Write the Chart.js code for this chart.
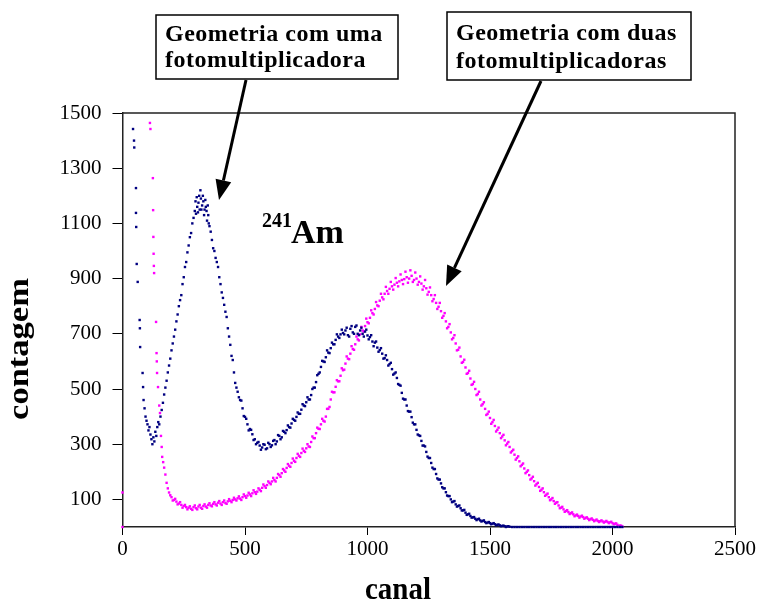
<!DOCTYPE html>
<html><head><meta charset="utf-8">
<script src="https://cdn.jsdelivr.net/npm/chart.js@4.4.0/dist/chart.umd.min.js"></script>
<style>html,body{margin:0;padding:0;background:#fff;}#wrap{position:relative;width:759px;height:603px;}</style>
</head><body><div id="wrap"><canvas id="c" width="759" height="603"></canvas></div>
<script>
const xTicks = [0, 500, 1000, 1500, 2000, 2500];
const yTicks = [100, 300, 500, 700, 900, 1100, 1300, 1500];
const seriesNames = ['Geometria com uma fotomultiplicadora', 'Geometria com duas fotomultiplicadoras'];

// one photomultiplier (navy)
const blueChannels = [43,47,48,55,55,56,58,62,70,71,72,82,84,86,90,94,98,102,106,110,114,118,122,126,130,134,138,142,146,150,
155,160,165,170,175,180,185,190,195,200,205,210,215,220,225,230,235,240,245,250,255,260,265,270,275,280,285,290,295,300,
305,310,315,318,320,325,330,335,340,345,350,355,360,365,370,375,380,385,390,395,400,405,410,415,420,425,430,435,440,445,
450,455,460,465,470,475,480,490,500,510,520,530,540,550,560,570,580,590,600,610,620,630,640,650,660,670,680,690,700,710,
720,730,740,750,760,770,780,790,800,810,820,830,840,850,860,870,880,890,900,910,920,930,940,950,960,970,980,990,1000,1010,
1020,1030,1040,1050,1060,1070,1080,1090,1100,1110,1120,1130,1140,1150,1160,1170,1180,1190,1200,1210,1220,1230,1240,1250,1260,1270,1280,1290,1300,1310,
1320,1330,1340,1350,1360,1370,1380,1390,1400,1410,1420,1430,1440,1450,1460,1470,1480,1490,1500,1510,1520,1530,1540,1550,1560,1570,1580,1590,1600,1610,
1620,1630,1640,1650,1660,1670,1680,1690,1700,1710,1720,1730,1740,1750,1760,1770,1780,1790,1800,1810,1820,1830,1840,1850,1860,1870,1880,1890,1900,1910,
1920,1930,1940,1950,1960,1970,1980,1990,2000,2010,2020,2030,2040];
const blueCounts = [1442,1400,1375,1228,1138,1087,953,888,750,720,652,558,507,460,430,400,385,372,350,362,335,318,300,325,310,345,330,362,380,372,
400,424,450,480,505,530,560,585,610,640,665,690,715,745,770,800,822,840,880,905,942,960,995,1020,1050,1065,1100,1120,1145,1135,
1160,1175,1150,1220,1190,1165,1180,1150,1160,1110,1130,1090,1070,1040,1010,1000,975,960,942,905,880,850,830,805,780,761,720,690,660,620,
605,560,522,505,490,470,460,430,399,372,355,336,318,305,295,288,298,285,300,296,315,310,330,325,345,351,362,375,388,399,
410,425,440,452,462,478,505,525,555,580,600,615,632,648,662,678,690,698,703,712,695,718,705,725,700,712,700,708,694,688,
672,668,650,641,628,612,605,590,572,556,540,515,486,462,440,418,398,372,352,332,312,295,272,250,232,210,192,172,158,140,
126,112,100,92,82,76,68,60,52,46,40,35,30,28,24,22,18,16,14,12,10,8,6,4,3,2,1,0,0,0,
0,0,0,0,0,0,0,0,0,0,0,0,0,0,0,0,0,0,0,0,0,0,0,0,0,0,0,0,0,0,
0,0,0,0,0,0,0,0,0,0,0,0,0];
// second reading of the navy scatter band (spread of the noisy points)
const blueChannelsB = [298,303,308,313,322,328,333,338,343,348,352,
485,495,505,515,525,535,545,555,565,575,585,595,605,615,625,635,645,655,665,675,685,695,705,715,725,735,745,755,765,775,
785,795,805,815,825,835,845,855,865,875,885,895,905,915,925,935,945,955,965,975,985,995,1005,1015,1025,1035,1045,1055,1065,1075,
1085,1095,1105,1115,1125,1135,1145,1155,1165,1175,1185,1195,1205,1215,1225,1235,1245,1255,1265,1275,1285,1295,1305,1315,1325,1335,1345,1355,1365,1375,
1385,1395,1405,1415,1425,1435,1445,1455,1465,1475,1485,1495,1505,1515,1525,1535,1545,1555,1565,1575];
const blueCountsB = [1180,1195,1140,1200,1150,1200,1130,1185,1145,1165,1100,
458,402,392,350,352,315,300,308,280,300,282,305,290,312,300,333,318,348,340,368,360,392,385,415,410,445,438,470,462,500,
505,550,560,602,598,640,630,668,662,698,685,715,698,722,690,728,700,730,695,722,690,715,680,695,655,672,635,648,610,622,
585,595,552,560,518,512,465,462,420,418,378,372,335,330,295,292,255,250,215,210,176,172,144,140,114,112,90,94,74,78,
60,62,44,48,34,36,25,30,20,24,14,18,10,14,6,9,3,5,0,3];

// two photomultipliers (magenta)
const pinkChannels = [0,0,112,114,124,125,126,127,128,129,137,139,140,141,145,150,153,157,160,162,166,170,175,180,185,190,195,200,210,220,
230,240,250,260,270,280,290,300,310,320,330,340,350,360,370,380,390,400,410,420,430,440,450,460,470,480,490,500,510,520,
530,540,550,560,570,580,590,600,610,620,630,640,650,660,670,680,690,700,710,720,730,740,750,760,770,780,790,800,810,820,
830,840,850,860,870,880,890,900,910,920,930,940,950,960,970,980,990,1000,1010,1020,1030,1040,1050,1060,1070,1080,1090,1100,1110,1120,
1130,1140,1150,1160,1170,1180,1190,1200,1210,1220,1230,1240,1250,1260,1270,1280,1290,1300,1310,1320,1330,1340,1350,1360,1370,1380,1390,1400,1410,1420,
1430,1440,1450,1460,1470,1480,1490,1500,1510,1520,1530,1540,1550,1560,1570,1580,1590,1600,1610,1620,1630,1640,1650,1660,1670,1680,1690,1700,1710,1720,
1730,1740,1750,1760,1770,1780,1790,1800,1810,1820,1830,1840,1850,1860,1870,1880,1890,1900,1910,1920,1930,1940,1950,1960,1970,1980,1990,2000,2010,2020,
2030,2040];
const pinkCounts = [0,125,1464,1442,1264,1148,1051,990,946,920,743,630,600,558,507,440,413,330,290,254,235,215,190,160,140,125,115,108,98,92,
85,80,76,72,70,66,72,68,74,70,76,74,80,78,84,82,88,85,90,87,93,95,98,100,104,103,108,112,114,118,
122,126,128,135,142,148,152,160,165,170,178,188,195,205,214,222,232,240,250,258,268,276,285,292,308,322,340,356,372,385,
400,428,462,488,508,528,548,568,592,610,628,645,662,680,698,712,728,742,758,775,790,803,820,832,845,855,863,872,878,885,
890,895,898,905,900,910,895,900,888,882,872,865,852,840,826,812,798,782,765,745,725,705,685,665,642,618,598,578,558,538,
518,500,482,462,445,428,410,395,380,366,352,340,328,314,302,290,275,262,250,238,225,212,200,188,176,166,155,145,135,126,
117,108,100,94,88,78,70,64,58,54,50,46,42,40,38,36,33,30,28,26,24,22,21,20,19,18,17,14,12,8,
5,2];
// second reading of the magenta scatter band
const pinkChannelsB = [205,215,225,235,245,255,265,275,285,295,305,315,325,335,345,355,365,375,385,395,405,415,425,435,445,455,465,475,485,495,
505,515,525,535,545,555,565,575,585,595,605,615,625,635,645,655,665,675,685,695,705,715,725,735,745,755,765,775,785,795,
805,815,825,835,845,855,865,875,885,895,905,915,925,935,945,955,965,975,985,995,1005,1015,1025,1035,1045,1055,1065,1075,1085,1095,
1105,1115,1125,1135,1145,1155,1165,1175,1185,1195,1205,1215,1225,1235,1245,1255,1265,1275,1285,1295,1305,1315,1325,1335,1345,1355,1365,1375,1385,1395,
1405,1415,1425,1435,1445,1455,1465,1475,1485,1495,1505,1515,1525,1535,1545,1555,1565,1575,1585,1595,1605,1615,1625,1635,1645,1655,1665,1675,1685,1695,
1705,1715,1725,1735,1745,1755,1765,1775,1785,1795,1805,1815,1825,1835,1845,1855,1865,1875,1885,1895,1905,1915,1925,1935,1945,1955,1965,1975,1985,1995,
2005,2015,2025,2035];
const pinkCountsB = [96,102,82,90,70,80,64,75,62,78,64,80,66,82,70,86,75,90,78,94,80,96,84,101,90,106,96,111,98,118,
106,124,112,133,120,140,130,154,142,165,155,178,165,192,182,210,200,228,218,248,236,265,254,284,272,300,290,328,322,360,
355,392,382,428,435,490,488,532,528,575,570,618,608,655,642,690,676,725,708,755,738,785,770,815,800,845,825,870,845,888,
860,902,872,915,880,925,885,930,888,922,878,908,860,895,842,868,818,840,790,812,758,775,720,735,680,695,640,650,595,606,
555,566,515,526,478,490,440,452,406,418,374,388,346,360,322,334,296,308,270,280,244,256,220,230,195,205,172,182,150,160,
131,140,113,121,97,105,84,90,68,73,55,61,47,53,39,45,34,41,30,35,25,31,21,27,18,24,16,22,14,19,
10,13,4,5];

function pts(xs, ys){ return xs.map((x,i)=>({x:x, y:ys[i]})); }

const SERIF = "'Liberation Serif','Times New Roman',serif";

function arrow(ctx,x1,y1,x2,y2){
  const ang=Math.atan2(y2-y1,x2-x1), L=20, W=8;
  const bx=x2-L*Math.cos(ang), by=y2-L*Math.sin(ang);
  ctx.lineWidth=3; ctx.strokeStyle='#000'; ctx.fillStyle='#000';
  ctx.beginPath(); ctx.moveTo(x1,y1); ctx.lineTo(bx,by); ctx.stroke();
  ctx.beginPath(); ctx.moveTo(x2,y2);
  ctx.lineTo(bx+W*Math.sin(ang), by-W*Math.cos(ang));
  ctx.lineTo(bx-W*Math.sin(ang), by+W*Math.cos(ang));
  ctx.closePath(); ctx.fill();
}

const deco = {
  id:'deco',
  afterDraw(chart){
    const ctx=chart.ctx, a=chart.chartArea;
    ctx.save();
    ctx.strokeStyle='#222'; ctx.lineWidth=1.5;
    ctx.beginPath(); ctx.moveTo(a.left,a.top); ctx.lineTo(a.right,a.top); ctx.lineTo(a.right,a.bottom); ctx.stroke();

    ctx.fillStyle='#000';
    ctx.save();
    ctx.translate(398,599); ctx.scale(1,1.12);
    ctx.font='bold 29px '+SERIF; ctx.textAlign='center'; ctx.textBaseline='alphabetic';
    ctx.fillText('canal',0,0);
    ctx.restore();
    ctx.save();
    ctx.translate(28,349); ctx.rotate(-Math.PI/2); ctx.scale(1.15,1);
    ctx.font='bold 30px '+SERIF; ctx.textAlign='center'; ctx.textBaseline='alphabetic';
    ctx.fillText('contagem',0,0);
    ctx.restore();

    ctx.lineWidth=1.5; ctx.strokeStyle='#000';
    ctx.fillStyle='#fff';
    ctx.fillRect(156,15,242,64); ctx.strokeRect(156,15,242,64);
    ctx.fillRect(447,12,244,68); ctx.strokeRect(447,12,244,68);
    ctx.fillStyle='#000';
    ctx.font='bold 24px '+SERIF; ctx.textAlign='left'; ctx.textBaseline='alphabetic';
    try{ ctx.letterSpacing='0.5px'; }catch(e){}
    ctx.fillText('Geometria com uma',165,41);
    ctx.fillText('fotomultiplicadora',165,67);
    ctx.fillText('Geometria com duas',456,40);
    ctx.fillText('fotomultiplicadoras',456,68);
    try{ ctx.letterSpacing='0px'; }catch(e){}

    ctx.font='bold 20px '+SERIF; ctx.fillText('241',262,227);
    ctx.font='bold 34px '+SERIF; ctx.fillText('Am',291,243);

    arrow(ctx,246,80,219,200);
    arrow(ctx,541,81,446,286);
    ctx.restore();
  }
};

new Chart(document.getElementById('c'), {
  type:'scatter',
  data:{datasets:[
    {label:seriesNames[0], data:pts(blueChannels,blueCounts).concat(pts(blueChannelsB,blueCountsB)), backgroundColor:'#000080', borderWidth:0, pointStyle:'rect', pointRadius:1.7, clip:false},
    {label:seriesNames[1], data:pts(pinkChannels,pinkCounts).concat(pts(pinkChannelsB,pinkCountsB)), backgroundColor:'#ff00ff', borderWidth:0, pointStyle:'rect', pointRadius:1.7, clip:false}
  ]},
  options:{
    responsive:false, animation:false,
    layout:{padding:{top:113,right:24,left:0,bottom:0}},
    plugins:{legend:{display:false}, tooltip:{enabled:false}},
    scales:{
      x:{type:'linear', min:0, max:2500,
        afterBuildTicks:s=>{s.ticks=xTicks.map(v=>({value:v}));},
        afterFit:s=>{s.height=76;},
        ticks:{color:'#000', font:{family:SERIF,size:21}, padding:2, maxRotation:0, callback:v=>String(v)},
        grid:{drawOnChartArea:false, drawTicks:true, tickLength:8, color:'#000'},
        border:{display:true, color:'#222', width:1.5}},
      y:{type:'linear', min:0, max:1500,
        afterBuildTicks:s=>{s.ticks=yTicks.map(v=>({value:v}));},
        afterFit:s=>{s.width=122.5;},
        ticks:{color:'#000', font:{family:SERIF,size:21}, padding:11, callback:v=>String(v)},
        grid:{drawOnChartArea:false, drawTicks:true, tickLength:10, color:'#000'},
        border:{display:true, color:'#222', width:1.5}}
    }
  },
  plugins:[deco]
});
</script></body></html>
